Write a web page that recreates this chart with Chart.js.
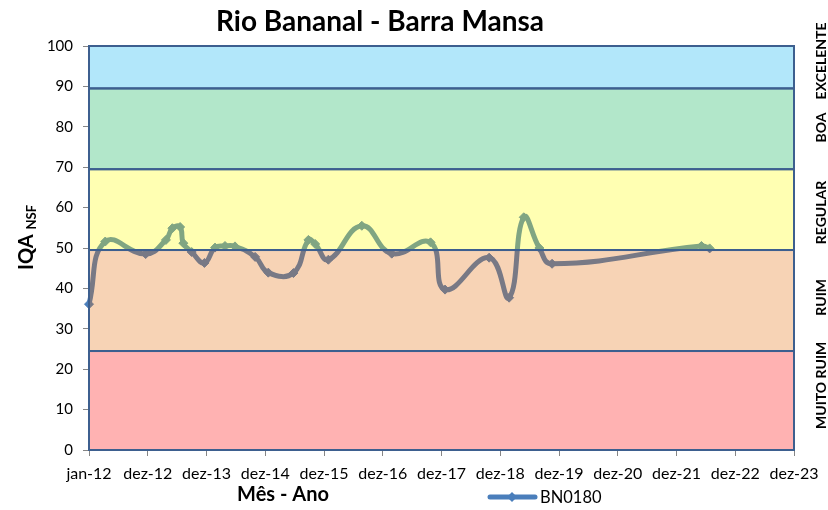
<!DOCTYPE html>
<html><head><meta charset="utf-8">
<script src="https://cdn.jsdelivr.net/npm/chart.js@4/dist/chart.umd.min.js"></script>
<style>html,body{margin:0;padding:0;background:#fff;}#wrap{width:828px;height:510px;position:relative;}</style>
</head><body><div id="wrap"><canvas id="c" width="828" height="510"></canvas></div>
<script>
const chartTitle = 'Rio Bananal - Barra Mansa';
const seriesName = 'BN0180';
const xAxisTitle = 'Mês - Ano';
const yAxisTitle = 'IQA';
const yAxisSub = 'NSF';
const tickLabels = ['jan-12','dez-12','dez-13','dez-14','dez-15','dez-16','dez-17','dez-18','dez-19','dez-20','dez-21','dez-22','dez-23'];
const sampleDates = ['2012-01-01','2012-04-11','2012-12-18','2013-04-23','2013-06-02','2013-07-20','2013-08-09','2013-09-30','2013-12-18','2014-02-22','2014-04-25','2014-06-26','2014-10-29','2015-01-19','2015-06-24','2015-09-25','2015-11-06','2016-01-27','2016-08-22','2017-02-24','2017-10-23','2018-01-21','2018-10-22','2019-02-23','2019-05-25','2019-08-30','2019-11-17','2022-06-02','2022-07-23'];
const iqaValues = [36.1,51.6,48.5,52.0,54.9,55.2,51.2,49.0,46.3,50.1,50.5,50.4,47.8,43.9,43.8,52.0,51.0,47.1,55.5,48.6,51.4,39.7,47.6,37.7,57.6,50.0,46.1,50.5,49.9];
const bandLimits = [0, 24.5, 49.5, 69.5, 89.5, 100];
const bandNames = ['MUITO RUIM','RUIM','REGULAR','BOA','EXCELENTE'];
const bandLabelAt = [16, 37.8, 58.8, 79.8, 96.3];

const bandFills = ['rgba(255,0,0,0.3)','rgba(228,108,10,0.3)','rgba(255,255,0,0.3)','rgba(0,176,80,0.3)','rgba(0,176,240,0.3)'];
const DAY = 86400000;
const origin = Date.UTC(2012,0,1);
function dayOf(s){const p=s.split('-').map(Number);return (Date.UTC(p[0],p[1]-1,p[2])-origin)/DAY;}
const points = sampleDates.map((d,i)=>({x:dayOf(d), y:iqaValues[i]}));
const SPAN = 365;

Chart.defaults.font.family = 'Lato, "Open Sans", sans-serif';
Chart.defaults.color = '#000';

const blue = '#4A7EBB';
const overlay = {
  id:'overlay',
  afterDatasetsDraw(chart){
    const {ctx, chartArea:a, scales:{y}} = chart;
    ctx.save();
    for(let i=0;i<bandNames.length;i++){
      const yt = y.getPixelForValue(bandLimits[i+1]);
      const yb = y.getPixelForValue(bandLimits[i]);
      ctx.fillStyle = bandFills[i];
      ctx.fillRect(a.left, yt, a.right-a.left, yb-yt);
    }
    ctx.strokeStyle = '#3D5F8F';
    ctx.lineWidth = 2;
    for(let i=0;i<bandNames.length;i++){
      const yt = y.getPixelForValue(bandLimits[i+1]);
      const yb = y.getPixelForValue(bandLimits[i]);
      ctx.strokeRect(a.left, yt, a.right-a.left, yb-yt);
    }
    ctx.restore();
  },
  afterDraw(chart){
    const {ctx, scales:{y}} = chart;
    ctx.save();
    ctx.fillStyle = '#000';
    // title
    ctx.font = 'bold 28px Lato';
    ctx.textAlign = 'center'; ctx.textBaseline = 'middle';
    ctx.fillText(chartTitle, 380, 22);
    // right band labels
    ctx.font = 'bold 14px Lato';
    for(let i=0;i<bandNames.length;i++){
      ctx.save();
      ctx.translate(821, y.getPixelForValue(bandLabelAt[i]));
      ctx.rotate(-Math.PI/2);
      ctx.fillText(bandNames[i], 0, 0);
      ctx.restore();
    }
    // y title with subscript
    ctx.save();
    ctx.textAlign = 'left';
    ctx.font = 'bold 20px Lato';
    const w1 = ctx.measureText(yAxisTitle).width;
    ctx.translate(33, 270);
    ctx.rotate(-Math.PI/2);
    ctx.textBaseline = 'alphabetic';
    ctx.fillText(yAxisTitle, 0, 0);
    ctx.font = 'bold 13px Lato';
    ctx.fillText(yAxisSub, w1 + 5, 3);
    ctx.restore();
    // x title
    ctx.font = 'bold 20px Lato';
    ctx.textAlign = 'center'; ctx.textBaseline = 'alphabetic';
    ctx.fillText(xAxisTitle, 283, 501);
    // legend
    ctx.strokeStyle = blue; ctx.lineWidth = 5; ctx.lineCap = 'round';
    ctx.beginPath(); ctx.moveTo(490, 497); ctx.lineTo(535, 497); ctx.stroke();
    ctx.fillStyle = blue;
    ctx.beginPath(); ctx.moveTo(512,492); ctx.lineTo(517,497); ctx.lineTo(512,502); ctx.lineTo(507,497); ctx.closePath(); ctx.fill();
    ctx.fillStyle = '#000';
    ctx.font = '16.5px Lato'; ctx.textAlign = 'left';
    ctx.fillText(seriesName, 540, 503);
    ctx.restore();
  }
};

new Chart(document.getElementById('c'), {
  type:'line',
  data:{datasets:[{
    label: seriesName, data: points,
    borderColor: blue, backgroundColor: blue,
    borderWidth: 5, pointStyle:'rectRot', pointRadius: 4.5, pointBorderWidth: 1,
    pointBorderColor: blue, tension: 0.45, clip: false
  }]},
  options:{
    responsive:false, animation:false, devicePixelRatio:1,
    layout:{padding:{left:0,right:34,top:46,bottom:0}},
    plugins:{legend:{display:false}, title:{display:false}, tooltip:{enabled:false}},
    scales:{
      x:{type:'linear', min:0, max:SPAN*(tickLabels.length-1),
        afterBuildTicks(s){s.ticks = tickLabels.map((_,i)=>({value:i*SPAN}));},
        afterFit(s){s.height = 60;},
        ticks:{autoSkip:false, maxRotation:0, padding:8, font:{size:16}, callback:(v)=>tickLabels[Math.round(v/SPAN)]},
        grid:{drawOnChartArea:false, tickLength:6, color:'#868686'},
        border:{color:'#868686', width:1}
      },
      y:{min:0, max:100,
        afterFit(s){s.width = 89;},
        ticks:{stepSize:10, padding:10, font:{size:15}},
        grid:{drawOnChartArea:false, tickLength:6, color:'#868686'},
        border:{color:'#868686', width:1}
      }
    }
  },
  plugins:[overlay]
});
</script></body></html>
